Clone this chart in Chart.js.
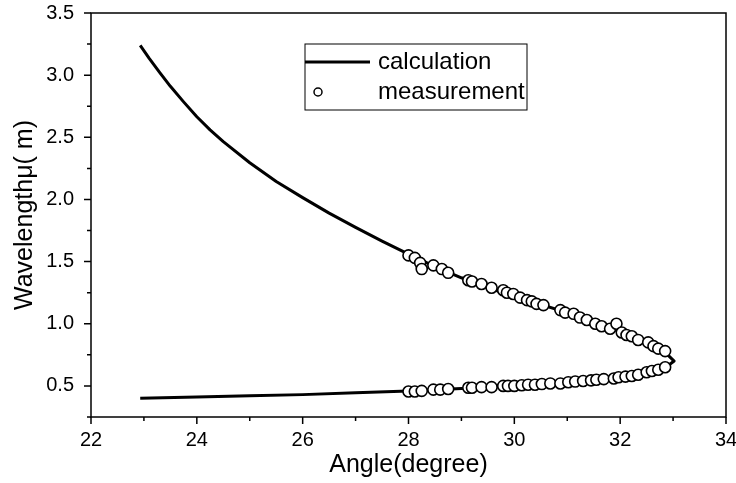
<!DOCTYPE html>
<html lang="en">
<head>
  <meta charset="UTF-8" />
  <title>Wavelength vs Angle</title>
  <script src="https://cdn.jsdelivr.net/npm/chart.js@4.4.0/dist/chart.umd.min.js"></script>
  <style>
    html, body { margin: 0; padding: 0; background: #fff; }
    canvas { display: block; }
  </style>
</head>
<body>
  <canvas id="phaseChart" width="736" height="483"></canvas>

  <script>
    // calculated curve: upper branch out to the turning point, then lower branch back
    const calcAngle = [22.93, 23.1, 23.3, 23.5, 23.75, 24, 24.25, 24.5, 25, 25.5, 26, 26.5, 27, 27.5, 28, 28.5, 29, 29.5,
                       30, 30.5, 31, 31.5, 32, 32.3, 32.6, 32.85, 33.02,
                       32.85, 32.6, 32.3, 32, 31.5, 31, 30.5, 30, 29, 28, 27, 26, 25, 24, 22.93];
    const calcWave  = [3.24, 3.135, 3.02, 2.91, 2.785, 2.665, 2.56, 2.465, 2.295, 2.145, 2.015, 1.89, 1.775, 1.665, 1.56,
                       1.46, 1.37, 1.29, 1.22, 1.155, 1.09, 1.015, 0.935, 0.88, 0.825, 0.77, 0.70,
                       0.645, 0.615, 0.59, 0.57, 0.55, 0.53, 0.515, 0.50, 0.48, 0.46, 0.445, 0.43, 0.42, 0.41, 0.40];

    // measured points (upper branch then lower branch)
    const measAngle = [28.0, 28.12, 28.22, 28.25, 28.47, 28.63, 28.75, 29.13, 29.2, 29.38, 29.57, 29.79, 29.86, 29.98,
                       30.11, 30.24, 30.33, 30.42, 30.55, 30.87, 30.96, 31.12, 31.24, 31.37, 31.53, 31.65, 31.81,
                       31.93, 32.03, 32.12, 32.22, 32.34, 32.53, 32.63, 32.72, 32.85,
                       28.0, 28.12, 28.25, 28.47, 28.6, 28.75, 29.13, 29.2, 29.38, 29.57, 29.79, 29.88, 30.0,
                       30.14, 30.26, 30.39, 30.52, 30.68, 30.87, 31.02, 31.15, 31.3, 31.45, 31.55, 31.69, 31.88,
                       31.97, 32.1, 32.22, 32.34, 32.5, 32.6, 32.72, 32.85];
    const measWave  = [1.55, 1.53, 1.49, 1.44, 1.47, 1.44, 1.41, 1.35, 1.34, 1.32, 1.29, 1.27, 1.25, 1.24,
                       1.21, 1.19, 1.18, 1.16, 1.15, 1.11, 1.09, 1.08, 1.05, 1.03, 1.00, 0.98, 0.96,
                       1.00, 0.93, 0.91, 0.90, 0.87, 0.85, 0.82, 0.80, 0.78,
                       0.455, 0.455, 0.46, 0.47, 0.47, 0.475, 0.485, 0.485, 0.49, 0.49, 0.50, 0.50, 0.50,
                       0.505, 0.51, 0.51, 0.515, 0.52, 0.52, 0.53, 0.535, 0.54, 0.545, 0.55, 0.555, 0.56,
                       0.57, 0.575, 0.58, 0.59, 0.61, 0.62, 0.63, 0.65];

    const xMajor = [22, 24, 26, 28, 30, 32, 34];
    const xMinor = [23, 25, 27, 29, 31, 33];
    const yMajor = [0.5, 1.0, 1.5, 2.0, 2.5, 3.0, 3.5];
    const yMinor = [0.25, 0.75, 1.25, 1.75, 2.25, 2.75, 3.25];

    const FONT = '"Liberation Sans", Arial, Helvetica, sans-serif';

    const toPoints = (xs, ys) => xs.map((x, i) => ({ x: x, y: ys[i] }));

    // box frame plus outward tick marks on bottom and left
    const frameTicks = {
      id: 'frameTicks',
      afterDraw(chart) {
        const { ctx, chartArea: a, scales } = chart;
        ctx.save();
        ctx.strokeStyle = '#000';
        ctx.lineWidth = 1.5;
        ctx.strokeRect(a.left, a.top, a.right - a.left, a.bottom - a.top);
        ctx.beginPath();
        const xt = (v, len) => {
          const px = scales.x.getPixelForValue(v);
          ctx.moveTo(px, a.bottom);
          ctx.lineTo(px, a.bottom + len);
        };
        const yt = (v, len) => {
          const py = scales.y.getPixelForValue(v);
          ctx.moveTo(a.left, py);
          ctx.lineTo(a.left - len, py);
        };
        xMajor.forEach(v => xt(v, 7));
        xMinor.forEach(v => xt(v, 4));
        yMajor.forEach(v => yt(v, 7));
        yMinor.forEach(v => yt(v, 4));
        ctx.stroke();
        ctx.restore();
      }
    };

    // legend box like the original figure
    const boxLegend = {
      id: 'boxLegend',
      afterDraw(chart) {
        const ctx = chart.ctx;
        ctx.save();
        ctx.strokeStyle = '#000';
        ctx.lineWidth = 1;
        ctx.strokeRect(305, 44, 222, 66);
        ctx.lineWidth = 3;
        ctx.beginPath();
        ctx.moveTo(305, 62);
        ctx.lineTo(370, 62);
        ctx.stroke();
        ctx.lineWidth = 1.5;
        ctx.fillStyle = '#fff';
        ctx.beginPath();
        ctx.arc(318, 92, 4, 0, Math.PI * 2);
        ctx.fill();
        ctx.stroke();
        ctx.fillStyle = '#000';
        ctx.font = '24px ' + FONT;
        ctx.textBaseline = 'middle';
        ctx.fillText('calculation', 378, 62);
        ctx.fillText('measurement', 378, 92);
        ctx.restore();
      }
    };

    const ctx = document.getElementById('phaseChart').getContext('2d');

    new Chart(ctx, {
      type: 'scatter',
      data: {
        datasets: [{
          label: 'measurement',
          data: toPoints(measAngle, measWave),
          pointStyle: 'circle',
          pointRadius: 5.5,
          pointBackgroundColor: '#fff',
          pointBorderColor: '#000',
          pointBorderWidth: 1.6,
          order: 0
        }, {
          label: 'calculation',
          data: toPoints(calcAngle, calcWave),
          showLine: true,
          borderColor: '#000',
          borderWidth: 3,
          borderJoinStyle: 'round',
          pointRadius: 0,
          tension: 0,
          order: 1
        }]
      },
      options: {
        responsive: false,
        animation: false,
        layout: { padding: { top: 13, right: 10, left: 0, bottom: 0 } },
        plugins: {
          legend: { display: false },
          tooltip: { enabled: false }
        },
        scales: {
          x: {
            type: 'linear',
            min: 22,
            max: 34,
            afterFit: s => { s.height = 66; s.paddingLeft = 0; s.paddingRight = 0; },
            grid: { display: false, drawTicks: false },
            border: { display: false },
            ticks: { stepSize: 2, padding: 11, color: '#000', font: { family: FONT, size: 20 } },
            title: {
              display: true,
              text: 'Angle(degree)',
              color: '#000',
              font: { family: FONT, size: 25 },
              padding: { top: 0, bottom: 3 }
            }
          },
          y: {
            type: 'linear',
            min: 0.25,
            max: 3.5,
            afterFit: s => { s.width = 91; s.paddingTop = 0; s.paddingBottom = 0; },
            afterBuildTicks: s => { s.ticks = yMajor.map(v => ({ value: v })); },
            grid: { display: false, drawTicks: false },
            border: { display: false },
            ticks: {
              padding: 17,
              color: '#000',
              font: { family: FONT, size: 20 },
              callback: v => v.toFixed(1)
            },
            title: {
              display: true,
              text: 'Wavelengthμ( m)',
              color: '#000',
              font: { family: FONT, size: 25 },
              padding: { top: 10, bottom: 0 }
            }
          }
        }
      },
      plugins: [frameTicks, boxLegend]
    });
  </script>
</body>
</html>
